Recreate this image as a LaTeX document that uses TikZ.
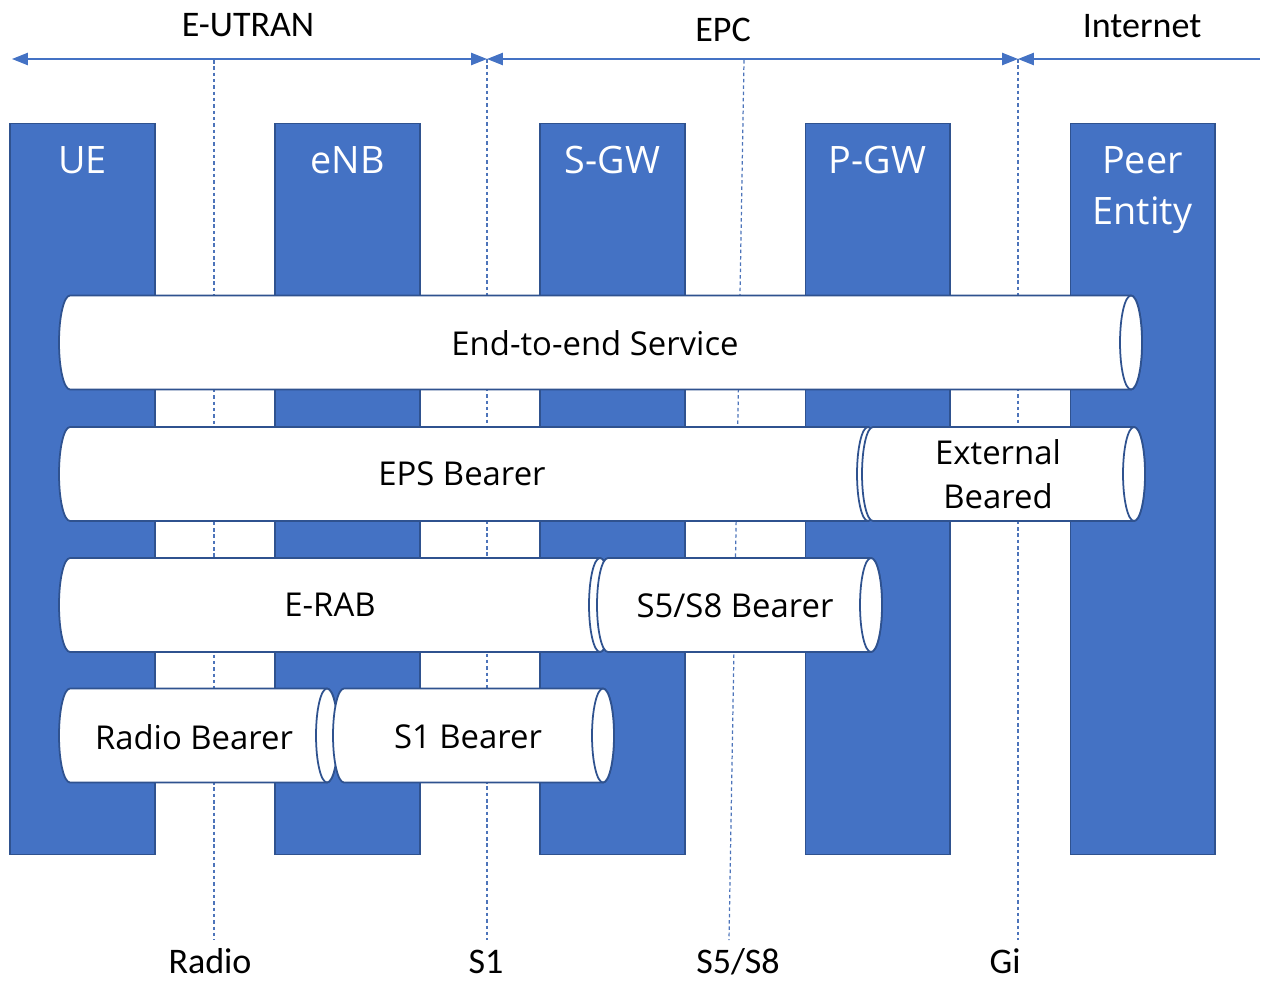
\documentclass[tikz,border=0pt]{standalone}
\usepackage{fontspec}
\setmainfont{Open Sans}
\newfontfamily\netfont{Carlito}
\usetikzlibrary{arrows.meta,positioning}
\definecolor{colfill}{HTML}{4472C4}
\definecolor{coledge}{HTML}{2F528F}

% a lying cylinder: leftmost x, centre x of the open end, centre y
\newcommand{\bearer}[3]{%
  \filldraw[pipe] ({#1+11},{#3-47}) -- (#2,{#3-47})
    arc[start angle=270,end angle=450,x radius=11,y radius=47]
    -- ({#1+11},{#3+47})
    arc[start angle=90,end angle=270,x radius=11,y radius=47] -- cycle;
  \draw[pipe] (#2,#3) ellipse[x radius=11,y radius=47];}

\begin{document}
\begin{tikzpicture}[x=0.02cm,y=-0.02cm,
    column/.style={rectangle,fill=colfill,draw=coledge,line width=0.6pt,
      minimum width=2.9cm,minimum height=14.64cm,outer sep=0pt},
    pipe/.style={fill=white,draw=coledge,line width=1pt},
    span/.style={draw=colfill,line width=0.7pt,
      >={Triangle[length=9pt,width=7pt]}}]
  \tikzstyle{colname} = [font=\fontsize{21.5}{29}\selectfont,color=white,
    inner sep=0pt,align=center]
  \tikzstyle{word} = [font=\fontsize{18.7}{25}\selectfont,color=black,align=center]
  \tikzstyle{net} = [font=\netfont\fontsize{20.5}{24}\selectfont,color=black,
    anchor=base,inner sep=1pt]
  \tikzstyle{iface} = [draw=colfill!85!gray,line width=0.7pt,dash pattern=on 2pt off 1.6pt]
  \useasboundingbox (0,0) rectangle (1263,980);

  % network elements
  \node (ue) [column] at (82.5,489) {};
  \node (enb) [column] at (347.5,489) {};
  \node (sgw) [column] at (612.5,489) {};
  \node (pgw) [column] at (877.5,489) {};
  \node (peer) [column] at (1142.5,489) {};
  \node (ue_name) [colname,below=0.46cm of ue.north,anchor=north] {UE};
  \node (enb_name) [colname,below=0.46cm of enb.north,anchor=north] {eNB};
  \node (sgw_name) [colname,below=0.46cm of sgw.north,anchor=north] {S-GW};
  \node (pgw_name) [colname,below=0.46cm of pgw.north,anchor=north] {P-GW};
  \node (peer_name) [colname,below=0.46cm of peer.north,anchor=north] {Peer\\Entity};

  % reference points
  \coordinate (west_end) at (12,59);
  \coordinate (east_end) at (1260,59);
  \coordinate (radio_top) at (214,60);
  \coordinate (radio_bot) at (214,940);
  \coordinate (s1_top) at (487,59);
  \coordinate (s1_bot) at (487,940);
  \coordinate (s5_top) at (744,60);
  \coordinate (s5_bot) at (729,940);
  \coordinate (gi_top) at (1018,59);
  \coordinate (gi_bot) at (1018,940);
  \draw[iface] (radio_top) -- (radio_bot);
  \draw[iface] (s1_top) -- (s1_bot);
  \draw[iface] (s5_top) -- (s5_bot);
  \draw[iface] (gi_top) -- (gi_bot);

  \draw[span,<->] (west_end) -- (s1_top);
  \draw[span,<->] (s1_top) -- (gi_top);
  \draw[span,<-] (gi_top) -- (east_end);
  \node (eutran) [net] at (248,37) {E-UTRAN};
  \node (epc) [net] at (723,42) {EPC};
  \node (internet) [net] at (1142,38) {Internet};
  \node (radio) [net] at (210,973) {Radio};
  \node (s1) [net] at (486,973) {S1};
  \node (s5s8) [net] at (738,973) {S5/S8};
  \node (gi) [net] at (1005,973) {Gi};

  % bearers
  \bearer{59}{1131}{342.5}
  \bearer{59}{868}{474}
  \bearer{862}{1134}{474}
  \bearer{59}{600}{605}
  \bearer{597}{871}{605}
  \bearer{59}{327}{735.5}
  \bearer{333}{603}{735.5}
  \node (e2e_b) [word] at (595,343) {End-to-end Service};
  \node (eps_b) [word] at (462,474) {EPS Bearer};
  \node (ext_b) [word] at (998,474) {External\\Beared};
  \node (erab_b) [word] at (330,605) {E-RAB};
  \node (s5s8_b) [word] at (735,606) {S5/S8 Bearer};
  \node (radio_b) [word] at (194,737) {Radio Bearer};
  \node (s1_b) [word] at (468,737) {S1 Bearer};
\end{tikzpicture}
\end{document}
